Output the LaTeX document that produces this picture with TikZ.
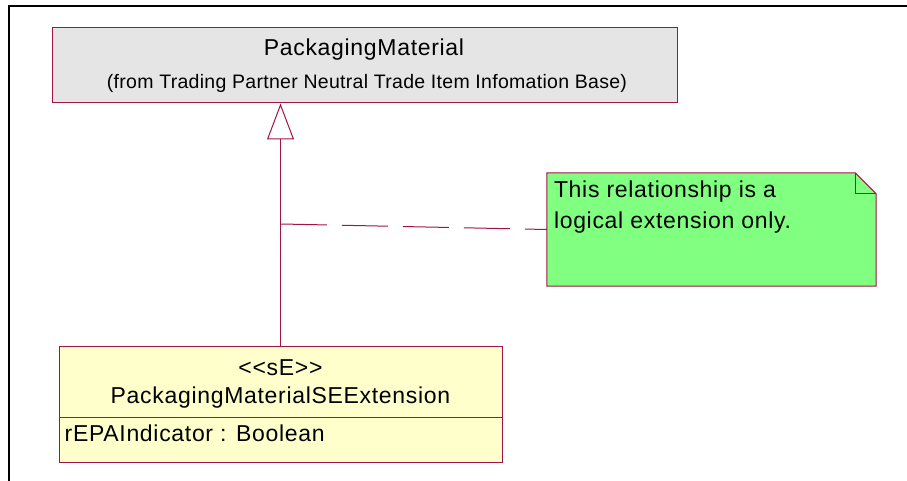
\documentclass[tikz,border=0pt]{standalone}
\usepackage{fontspec}
\setmainfont{Liberation Sans}
\newfontfamily\umlfont[LetterSpace=3]{Liberation Sans}
\newfontfamily\umlsmall[LetterSpace=1.5]{Liberation Sans}
\usetikzlibrary{arrows.meta}
\definecolor{umlline}{RGB}{160,20,70}
\definecolor{supfill}{RGB}{229,229,229}
\definecolor{subfill}{RGB}{255,255,204}
\definecolor{notefill}{RGB}{128,255,128}
\tikzset{
  classbox/.style={draw=umlline, line width=1pt, inner sep=0pt},
  bigtext/.style={font=\umlfont\fontsize{23}{27}\selectfont, inner sep=0pt},
  smalltext/.style={font=\umlsmall\fontsize{19.5}{23}\selectfont, inner sep=0pt},
  conn/.style={draw=umlline, line width=1pt},
  frameline/.style={draw=black, line width=2pt}
}
\begin{document}
\begin{tikzpicture}[x=1pt,y=-1pt]
\useasboundingbox (0,0) rectangle (907,481);
% frame
\coordinate (f1) at (9,481);
\coordinate (f2) at (9,6);
\coordinate (f3) at (907,6);
\draw[frameline] (f1) -- (f2) -- (f3);
% superclass
\node[classbox, fill=supfill, minimum width=625pt, minimum height=75pt] (super) at (364.5,65.5) {};
\node[bigtext] (supname) at (364,50) {PackagingMaterial};
\node[smalltext] (supfrom) at (367,83) {(from Trading Partner Neutral Trade Item Infomation Base)};
% subclass
\node[classbox, fill=subfill, minimum width=443pt, minimum height=116pt] (sub) at (280.5,404) {};
\draw[conn] ([yshift=-72pt]sub.north west) -- ([yshift=-72pt]sub.north east);
\node[bigtext] (stereo) at ([yshift=-22pt]sub.north) {<<sE>>};
\node[bigtext] (subname) at ([yshift=-52pt]sub.north) {PackagingMaterialSEExtension};
\node[bigtext, anchor=west] (attr) at ([xshift=6pt,yshift=-88pt]sub.north west) {rEPAIndicator : Boolean};
% generalization
\draw[conn, -{Triangle[open, width=27pt, length=36pt, fill=white]}] (sub.north) -- (super.south -| sub.north);
% note
\node[minimum width=329pt, minimum height=113pt, inner sep=0pt] (note) at (711.5,229.5) {};
\fill[notefill] (note.north west) -- ([xshift=-21pt]note.north east) -- ([yshift=-21pt]note.north east) -- (note.south east) -- (note.south west) -- cycle;
\draw[umlline, line width=1pt] (note.north west) -- ([xshift=-21pt]note.north east) -- ([yshift=-21pt]note.north east) -- (note.south east) -- (note.south west) -- cycle;
\draw[umlline, line width=1pt] ([xshift=-21pt]note.north east) -- ([xshift=-21pt,yshift=-21pt]note.north east) -- ([yshift=-21pt]note.north east);
\node[bigtext, anchor=north west, align=left] (notetext) at ([xshift=7pt,yshift=-8pt]note.north west) {This relationship is a\\[4pt]logical extension only.};
% dashed link
\coordinate (j) at (281,224);
\draw[conn, dash pattern=on 46pt off 15pt] (j) -- (note.west);
\end{tikzpicture}
\end{document}
